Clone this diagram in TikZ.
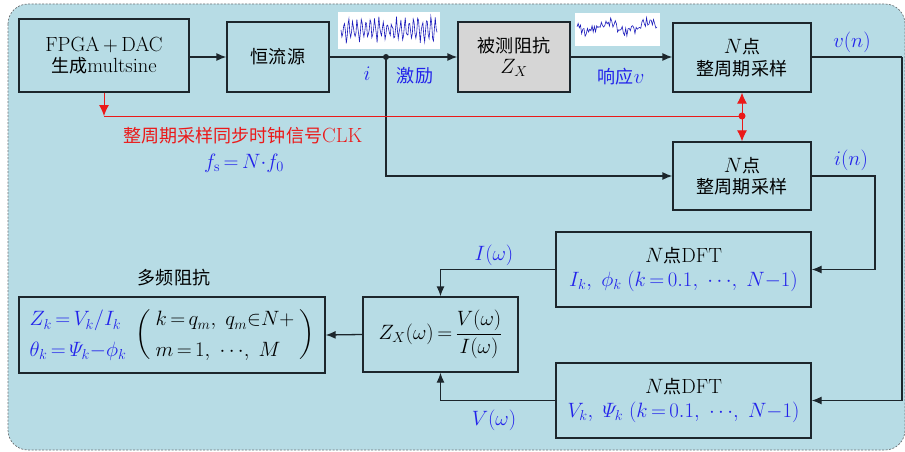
\documentclass[tikz,border=0pt]{standalone}
\usepackage{amsmath}
\usepackage[no-math]{fontspec}
\newfontfamily\cjk[Scale=0.88]{Noto Sans CJK SC}
\usetikzlibrary{arrows.meta,calc}
\definecolor{bgblue}{RGB}{183,220,229}
\definecolor{boxline}{RGB}{28,38,44}
\definecolor{txtblue}{RGB}{35,35,235}
\definecolor{clkred}{RGB}{235,25,25}
\definecolor{zgray}{RGB}{214,214,214}
\definecolor{bordergray}{RGB}{110,115,118}
\newcommand{\parL}{\left(\vcenter to 48pt{}\right.}
\newcommand{\parR}{\left.\vcenter to 48pt{}\right)}
\begin{document}
\begin{tikzpicture}[x=1pt,y=-1pt,
  font=\fontsize{20.5}{21.5}\selectfont,
  blk/.style={draw=boxline, line width=1.3pt, fill=bgblue, align=center, inner sep=0pt},
  conn/.style={draw=boxline, line width=1.3pt},
  arr/.style={conn, -{Latex[length=10pt,width=8pt]}},
  clk/.style={draw=clkred, line width=1pt},
  lbl/.style={text=txtblue, inner sep=0pt},
  wavebox/.style={fill=white, draw=none},
  wave/.style={draw=txtblue!80!black, line width=0.6pt}]
% canvas
\fill[white] (0,0) rectangle (905,452);
\useasboundingbox (0,0) rectangle (905,452);
\draw[bordergray, dash pattern=on 2pt off 1.5pt, line width=0.7pt, fill=bgblue, rounded corners=20pt] (8,4) rectangle (905,450);

% blocks
\node[blk, minimum width=170, minimum height=73] (fpga) at (104,55.5) {FPGA\,+\,DAC\\{\cjk 生成}multsine};
\node[blk, minimum width=102, minimum height=70] (hls) at (278,57) {\cjk 恒流源};
\node[blk, fill=zgray, minimum width=112, minimum height=70] (zx) at (514,57) {{\cjk 被测阻抗}\\$Z_X$};
\node[blk, minimum width=138, minimum height=69] (sv) at (742,57.5) {$N${\cjk 点}\\{\cjk 整周期采样}};
\node[blk, minimum width=138, minimum height=68] (si) at (742,176) {$N${\cjk 点}\\{\cjk 整周期采样}};
\node[blk, minimum width=255, minimum height=75, font=\fontsize{20.5}{24}\selectfont] (dfti) at (683.5,269.5)
  {$N${\cjk 点}DFT\\\textcolor{txtblue}{$I_k,\;\phi_k\;(k\,{=}\,0.1,\;{\cdots},\;N{-}1)$}};
\node[blk, minimum width=255, minimum height=75, font=\fontsize{20.5}{24}\selectfont] (dftv) at (683.5,400.5)
  {$N${\cjk 点}DFT\\\textcolor{txtblue}{$V_k,\;\varPsi_k\;(k\,{=}\,0.1,\;{\cdots},\;N{-}1)$}};
\node[blk, minimum width=155, minimum height=75] (z) at (440.5,334.5)
  {$Z_X(\omega)\,{=}\,\dfrac{V(\omega)}{I(\omega)}$};
\node[blk, minimum width=306, minimum height=76, font=\fontsize{19.5}{20.5}\selectfont] (res) at (172,335)
  {$\def\arraystretch{1.47}{\color{txtblue}\begin{array}{@{}l@{}}Z_k\,{=}\,V_k/I_k\\ \theta_k\,{=}\,\varPsi_k{-}\phi_k\end{array}}\;\parL\begin{array}{@{}l@{}}k\,{=}\,q_m,\;q_m{\in}N{+}\\ m\,{=}\,1,\;{\cdots},\;M\end{array}\parR$};

% waveform images
\fill[wavebox] (338,12) rectangle (440,49);
\pgfmathsetseed{11}
\draw[wave] plot[domain=0:96, samples=110] ({\x+341},{30+15*sin(\x*83)*(0.6+0.4*rand)});
\fill[wavebox] (575,13) rectangle (660,46);
\pgfmathsetseed{5}
\draw[wave] plot[domain=0:80, samples=70] ({\x+577},{27+5*sin(\x*9)+5*rand});

% connectors
\coordinate (j) at (386,57);
\draw[arr] (hls.west -| fpga.east) -- (hls.west);
\draw[conn] (hls.east) -- (j);
\draw[arr] (j) -- (zx.west);
\fill[boxline] (j) circle (3);
\draw[arr] (zx.east) -- (sv.west |- zx.east);
\draw[arr] (j) |- (si.west);
\coordinate (rv) at (902,57);
\draw[conn] (sv.east |- rv) -- (rv);
\draw[arr] (rv) |- (dftv.east);
\coordinate (ri) at (875,176);
\draw[arr] (si.east) -- (ri) |- (dfti.east);
\draw[arr] (dfti.west) -| (z.north);
\draw[arr] (dftv.west) -| (z.south);
\draw[arr] (z.west) -- (res.east);

% clock
\coordinate (rd) at (742,116);
\coordinate (rf) at (104,116);
\draw[clk, -{Latex[length=11pt,width=10pt]}] (fpga.south) -- (rf);
\draw[clk] (rf) -- (rd);
\draw[clk, {Latex[length=11pt,width=10pt]}-{Latex[length=11pt,width=10pt]}] (sv.south) -- (si.north);
\fill[clkred] (rd) circle (3.5);

% labels
\node[lbl] (li) at (367,74) {$i$};
\node[lbl] (lji) at (415,76) {\cjk 激励};
\node[lbl] (lxy) at (621,77) {{\cjk 响应}$v$};
\node[lbl] (lvn) at (852,42) {$v(n)$};
\node[lbl] (lin) at (851,160) {$i(n)$};
\node[lbl] (lIw) at (494,255) {$I(\omega)$};
\node[lbl] (lVw) at (494,420) {$V(\omega)$};
\node[text=clkred, inner sep=0pt] (lclk) at (243,136) {{\cjk 整周期采样同步时钟信号}CLK};
\node[lbl] (lfs) at (244,163) {$f_\mathrm{s}\,{=}\,N{\cdot}f_0$};
\node[inner sep=0pt] (ldp) at (174,278) {\cjk 多频阻抗};
\end{tikzpicture}
\end{document}
